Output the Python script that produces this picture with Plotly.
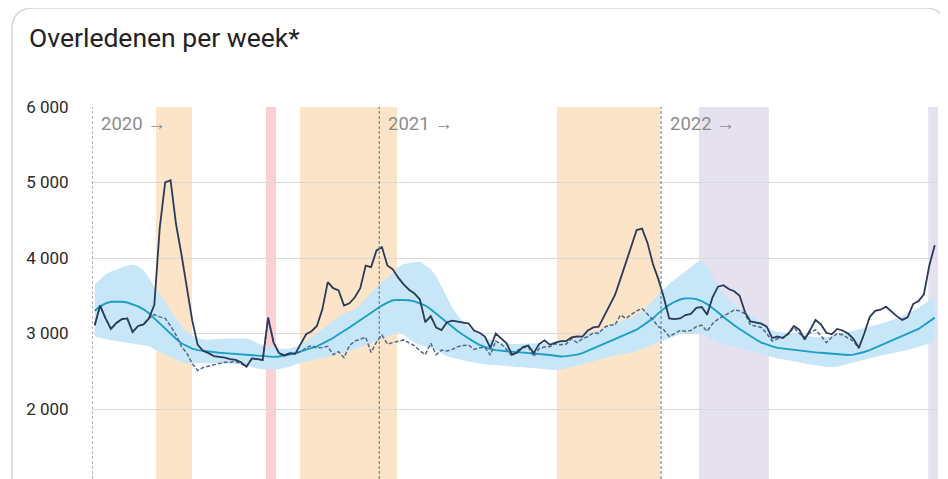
import plotly.graph_objects as go

# ---------------- data (week index 0 = 2020 week 1) ----------------
overleden = [
    3110, 3370, 3200, 3060, 3140, 3190, 3200, 3020, 3100, 3120,
    3200, 3380, 4400, 5000, 5030, 4450, 4050, 3620, 3170, 2850,
    2770, 2740, 2700, 2690, 2680, 2660, 2650, 2620, 2560, 2670,
    2660, 2650, 3210, 2880, 2740, 2710, 2740, 2730, 2860, 2990,
    3030, 3100, 3320, 3680, 3600, 3570, 3370, 3400, 3480, 3600,
    3900, 3880, 4100, 4145, 3900, 3850, 3740, 3650, 3580, 3530,
    3450, 3150, 3230, 3080, 3046, 3150, 3170, 3157, 3150, 3130,
    3040, 3010, 2960, 2810, 3000, 2930, 2870, 2720, 2750, 2820,
    2840, 2740, 2860, 2910, 2850, 2880, 2900, 2900, 2950, 2960,
    2958, 3040, 3080, 3090, 3230, 3380, 3510, 3720, 3930, 4140,
    4370, 4390, 4200, 3920, 3720, 3480, 3200, 3190, 3200, 3245,
    3260, 3340, 3350, 3250, 3480, 3620, 3640, 3590, 3560, 3500,
    3280, 3160, 3150, 3130, 3090, 2940, 2960, 2940, 3000, 3100,
    3050, 2920, 3046, 3180, 3120, 3010, 2990, 3060, 3040, 3000,
    2930, 2810, 3000, 3220, 3300, 3315, 3355, 3290, 3230, 3180,
    3215, 3390, 3430, 3520, 3900, 4170,
]

overleden_excl = [
    3110, 3370, 3200, 3060, 3140, 3190, 3200, 3020, 3100, 3120,
    3200, 3250, 3220, 3200, 3100, 2980, 2830, 2740, 2600, 2510,
    2550, 2570, 2590, 2610, 2620, 2620, 2630, 2600, 2560, 2670,
    2660, 2650, 3210, 2880, 2740, 2710, 2740, 2730, 2760, 2810,
    2840, 2810, 2815, 2830, 2720, 2760, 2680, 2840, 2900, 2920,
    2950, 2750, 2890, 2980, 2860, 2880, 2900, 2915, 2875, 2840,
    2770, 2720, 2870, 2720, 2780, 2770, 2790, 2826, 2840, 2845,
    2790, 2810, 2815, 2715, 2900, 2860, 2790, 2700, 2780, 2810,
    2825, 2695, 2800, 2820, 2826, 2865, 2850, 2860, 2930, 2880,
    2930, 2960, 3010, 3002, 3080, 3113, 3113, 3245, 3200, 3250,
    3300, 3330, 3260, 3180, 3090, 3050, 2960, 3000, 3040, 3030,
    3040, 3090, 3110, 3030, 3130, 3190, 3230, 3280, 3310, 3300,
    3260, 3113, 3100, 3080, 3000, 2900, 2930, 2950, 2990, 3080,
    3000, 2950, 3010, 3050, 2970, 2880, 2950, 3000, 2980, 2940,
    2900, 2800, None, None, None, None, None, None, None, None,
    None, None, None, None, None, None,
]

verwacht = [
    3300, 3360, 3400, 3420, 3420, 3420, 3410, 3390, 3360, 3320,
    3270, 3200, 3130, 3060, 2990, 2930, 2870, 2830, 2800, 2780,
    2770, 2760, 2750, 2745, 2740, 2735, 2730, 2725, 2720, 2715,
    2710, 2700, 2690, 2690, 2695, 2705, 2720, 2740, 2760, 2780,
    2805, 2830, 2865, 2900, 2940, 2990, 3030, 3080, 3130, 3180,
    3230, 3280, 3330, 3370, 3410, 3440, 3445, 3445, 3440, 3425,
    3400, 3370, 3320, 3260, 3200, 3140, 3080, 3030, 2980, 2930,
    2890, 2850, 2820, 2795, 2780, 2770, 2765, 2760, 2755, 2750,
    2745, 2740, 2735, 2725, 2715, 2705, 2695, 2700, 2710, 2720,
    2740, 2770, 2800, 2830, 2860, 2890, 2920, 2950, 2980, 3010,
    3050, 3100, 3150, 3200, 3270, 3330, 3380, 3420, 3450, 3465,
    3465, 3455, 3430, 3390, 3340, 3280, 3220, 3160, 3110, 3060,
    3010, 2960, 2920, 2880, 2850, 2830, 2810, 2800, 2790, 2780,
    2775, 2770, 2760, 2750, 2745, 2740, 2730, 2720, 2715, 2715,
    2720, 2735, 2755, 2780, 2810, 2840, 2870, 2900, 2930, 2960,
    2990, 3020, 3060, 3110, 3160, 3210,
]

band_hi = [
    3650, 3720, 3780, 3820, 3850, 3880, 3900, 3910, 3890, 3840,
    3740, 3620, 3520, 3420, 3300, 3200, 3100, 3020, 2970, 2940,
    2920, 2920, 2925, 2930, 2935, 2930, 2925, 2930, 2935, 2910,
    2870, 2840, 2820, 2810, 2800, 2795, 2800, 2820, 2860, 2900,
    2950, 3000, 3050, 3110, 3170, 3220, 3260, 3290, 3320, 3380,
    3460, 3540, 3620, 3690, 3730, 3800, 3880, 3920, 3935, 3945,
    3950, 3900, 3850, 3760, 3620, 3480, 3340, 3240, 3150, 3080,
    3030, 2980, 2940, 2920, 2890, 2870, 2865, 2860, 2860, 2865,
    2870, 2870, 2870, 2870, 2875, 2880, 2885, 2890, 2910, 2940,
    2970, 3000, 3020, 3040, 3070, 3100, 3140, 3170, 3190, 3210,
    3250, 3290, 3360, 3440, 3520, 3590, 3660, 3720, 3770, 3820,
    3880, 3940, 3970, 3880, 3760, 3640, 3530, 3440, 3370, 3310,
    3270, 3240, 3210, 3150, 3090, 3040, 3020, 3010, 3005, 3000,
    2990, 2975, 2960, 2950, 2950, 2955, 2960, 2980, 3000, 3020,
    3040, 3050, 3070, 3090, 3110, 3130, 3150, 3170, 3200, 3230,
    3260, 3300, 3340, 3390, 3440, 3490,
]

band_lo = [
    2960, 2940, 2920, 2910, 2900, 2890, 2880, 2870, 2860, 2845,
    2830, 2790, 2750, 2720, 2690, 2650, 2620, 2610, 2605, 2605,
    2605, 2605, 2605, 2605, 2605, 2600, 2600, 2590, 2570, 2550,
    2535, 2525, 2520, 2520, 2525, 2540, 2560, 2590, 2610, 2630,
    2650, 2665, 2680, 2695, 2710, 2730, 2750, 2770, 2790, 2810,
    2840, 2870, 2900, 2925, 2950, 2990, 3020, 2980, 2930, 2880,
    2850, 2830, 2810, 2780, 2740, 2700, 2680, 2660, 2645, 2630,
    2615, 2600, 2590, 2585, 2580, 2580, 2575, 2570, 2560, 2550,
    2545, 2540, 2535, 2530, 2520, 2515, 2520, 2540, 2560, 2580,
    2600, 2620, 2640, 2660, 2680, 2700, 2710, 2720, 2730, 2750,
    2770, 2790, 2820, 2850, 2880, 2910, 2940, 2965, 2990, 3000,
    3005, 3005, 2990, 2960, 2920, 2880, 2860, 2840, 2820, 2800,
    2780, 2760, 2745, 2730, 2710, 2690, 2670, 2660, 2650, 2640,
    2620, 2600, 2590, 2575, 2565, 2560, 2555, 2560, 2580, 2600,
    2620, 2635, 2650, 2670, 2690, 2705, 2720, 2730, 2745, 2760,
    2780, 2800, 2820, 2845, 2870, 2890,
]

weeks = list(range(len(overleden)))

year_labels = ["2020 →", "2021 →", "2022 →"]
year_starts = [-0.5, 52.5, 104.5]

y_ticks = [2000, 3000, 4000, 5000, 6000]
y_tick_labels = ["2 000", "3 000", "4 000", "5 000", "6 000"]

# periods: (start, end, kind)
periods = [
    (11.3, 17.95, "golf"),
    (31.6, 33.45, "hitte"),
    (37.9, 55.8, "golf"),
    (85.3, 104.3, "golf"),
    (111.5, 124.4, "omikron"),
    (153.8, 156.0, "omikron"),
]

# ---------------- styling / layout ----------------
OFF = 8                      # page body margin
PAGE_W, PAGE_H = 948, 479
W, H = PAGE_W - OFF, PAGE_H - OFF
PLOT_L, PLOT_R, PLOT_T = 92, 938, 107   # page pixels
L, R, T, B = PLOT_L - OFF, PAGE_W - PLOT_R, PLOT_T - OFF, 0
PW, PH = W - L - R, H - T - B
Y_TOP = 6000
PX_PER_1000 = 75.5
Y_BOTTOM = Y_TOP - PH / PX_PER_1000 * 1000
X_LEFT, X_RIGHT = -0.5, 155.6

period_colors = {"golf": "#fbe4c7", "hitte": "#fbd0d5", "omikron": "#e6e1ef"}


def px(xpage):
    return (xpage - OFF - L) / PW


def py(ypage):
    return (H - B - (ypage - OFF)) / PH


fig = go.Figure()

fig.add_trace(go.Scatter(x=weeks, y=band_lo, mode="lines", line=dict(width=0),
                         hoverinfo="skip", showlegend=False))
fig.add_trace(go.Scatter(x=weeks, y=band_hi, mode="lines", line=dict(width=0),
                         fill="tonexty", fillcolor="#c7e6f8",
                         hoverinfo="skip", showlegend=False))
fig.add_trace(go.Scatter(x=weeks, y=verwacht, mode="lines",
                         line=dict(color="#1c9fc6", width=1.9), showlegend=False))
fig.add_trace(go.Scatter(x=weeks, y=overleden_excl, mode="lines",
                         line=dict(color="#4f6a8c", width=1.5, dash="4px,2px"),
                         showlegend=False))
fig.add_trace(go.Scatter(x=weeks, y=overleden, mode="lines",
                         line=dict(color="#2a3a58", width=1.8), showlegend=False))

shapes = []
for x0, x1, kind in periods:
    shapes.append(dict(type="rect", xref="x", yref="paper", x0=x0, x1=x1, y0=0, y1=1,
                       fillcolor=period_colors[kind], line=dict(width=0), layer="below"))
for xs in year_starts:
    shapes.append(dict(type="line", xref="x", yref="paper", x0=xs, x1=xs, y0=0, y1=1,
                       line=dict(color="#6e6e6e", width=1, dash="3px,2px"), layer="above"))

# card outline (rounded top corners, sides run past bottom edge)
cl, ct, cr, rad = 12, 8, 946, 22
cb = PAGE_H + 30
path = (f"M {px(cl)},{py(cb)} L {px(cl)},{py(ct + rad)} "
        f"Q {px(cl)},{py(ct)} {px(cl + rad)},{py(ct)} "
        f"L {px(cr - rad)},{py(ct)} Q {px(cr)},{py(ct)} {px(cr)},{py(ct + rad)} "
        f"L {px(cr)},{py(cb)}")
shapes.append(dict(type="path", xref="paper", yref="paper", path=path,
                   line=dict(color="#d3d9e0", width=1.5), layer="above"))

annotations = [dict(text="Overledenen per week*", xref="paper", yref="paper",
                    x=px(27), y=py(38), xanchor="left", yanchor="middle", showarrow=False,
                    font=dict(family="Roboto", size=26.5, color="#222222"))]
for xs, lab in zip(year_starts, year_labels):
    annotations.append(dict(text=lab, xref="x", yref="paper", x=xs, y=py(124),
                            xanchor="left", yanchor="middle", xshift=7, showarrow=False,
                            font=dict(family="Roboto", size=18.5, color="#8c8c8c")))

fig.update_layout(
    width=W, height=H,
    margin=dict(l=L, r=R, t=T, b=B),
    paper_bgcolor="white", plot_bgcolor="rgba(0,0,0,0)",
    shapes=shapes, annotations=annotations,
    font=dict(family="Roboto"),
    hovermode=False,
)
fig.update_xaxes(range=[X_LEFT, X_RIGHT], showgrid=False, zeroline=False,
                 showticklabels=False, ticks="", showline=False)
fig.update_yaxes(range=[Y_BOTTOM, Y_TOP], tickvals=y_ticks, ticktext=y_tick_labels,
                 showgrid=True, gridcolor="#d9d9d9", gridwidth=1, zeroline=False,
                 ticks="outside", ticklen=19, tickcolor="rgba(0,0,0,0)",
                 tickfont=dict(family="Roboto", size=17, color="#2a2a2a"),
                 showline=False)

fig.write_html("out.html")
